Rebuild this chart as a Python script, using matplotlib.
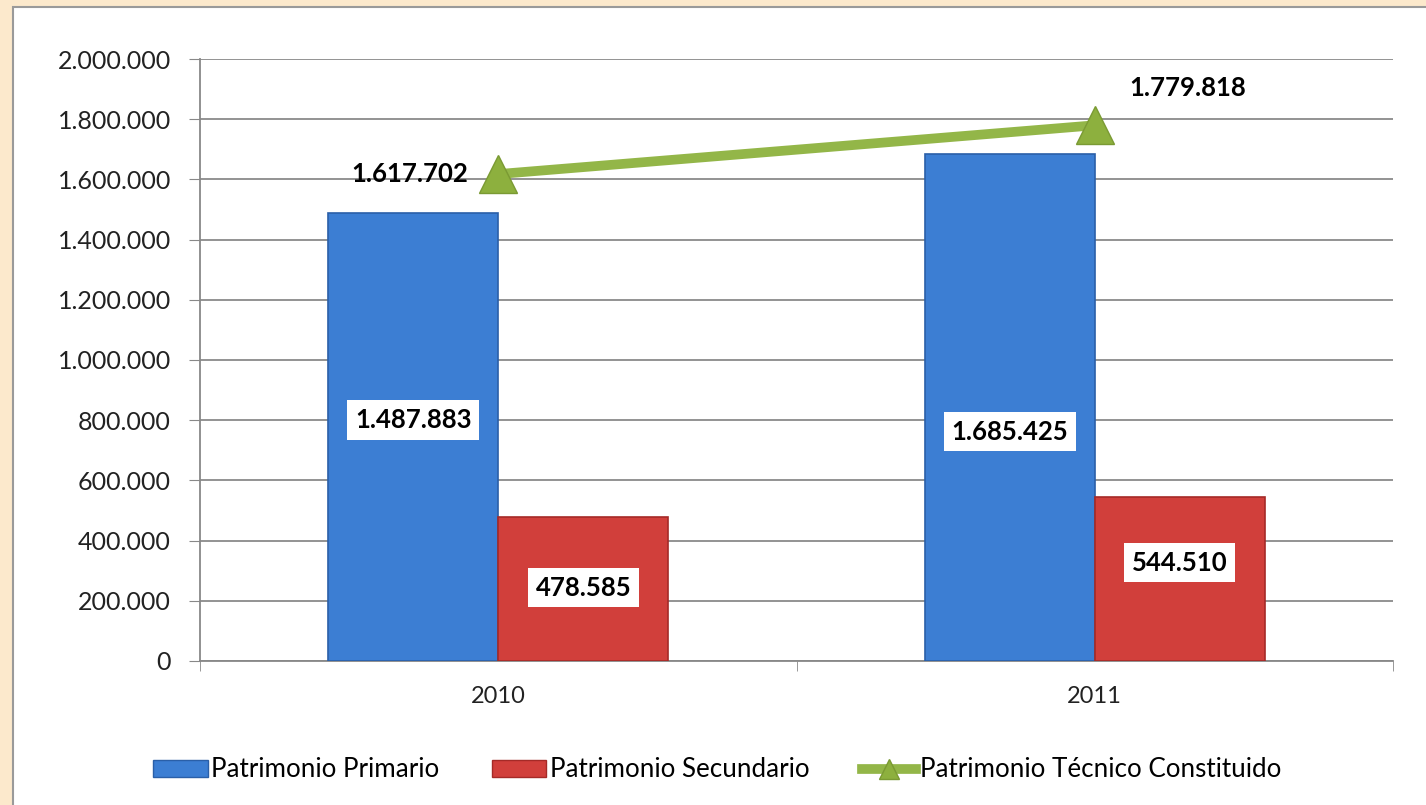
import numpy as np
import matplotlib
matplotlib.use('Agg')
import matplotlib.pyplot as plt
from matplotlib.patches import Rectangle, Patch
from matplotlib.lines import Line2D

years = ['2010', '2011']
primario = [1487883, 1685425]
secundario = [478585, 544510]
tecnico = [1617702, 1779818]

yticks = np.arange(0, 2000001, 200000)
ytick_labels = ['{:,}'.format(v).replace(',', '.') for v in yticks]


def fmt(v):
    return '{:,}'.format(v).replace(',', '.')


plt.rcParams['font.family'] = ['Lato', 'DejaVu Sans']

fig = plt.figure(figsize=[14.26, 8.05], dpi=100)
fig.patch.set_facecolor('#fce9cc')

# white panel behind the chart
panel = Rectangle((0.0091, -0.01), 1.0, 1.001, transform=fig.transFigure,
                  facecolor='white', edgecolor='#9a9a9a', linewidth=1.5, zorder=-10)
fig.patches.append(panel)

ax = fig.add_axes([0.1403, 0.1789, 0.8366, 0.7478])
ax.set_facecolor('none')

x = np.arange(len(years))
w = 0.285

ax.bar(x - w / 2, primario, w, color='#3c7ed3', edgecolor='#2a5fa8', linewidth=1.2, zorder=3)
ax.bar(x + w / 2, secundario, w, color='#d13f3b', edgecolor='#a52a27', linewidth=1.2, zorder=3)
ax.plot(x, tecnico, color='#93b648', linewidth=7, marker='^', markersize=27,
        markerfacecolor='#8db03e', markeredgecolor='#7a9a33', zorder=4)

box = dict(boxstyle='square,pad=0.3', facecolor='white', edgecolor='none')
prim_pos = [0.538, 0.452]
sec_pos = [0.51, 0.60]
for i in range(len(years)):
    ax.text(x[i] - w / 2, primario[i] * prim_pos[i], fmt(primario[i]), ha='center', va='center',
            fontsize=18.5, fontweight='bold', bbox=box, zorder=5)
    ax.text(x[i] + w / 2, secundario[i] * sec_pos[i], fmt(secundario[i]), ha='center', va='center',
            fontsize=18.5, fontweight='bold', bbox=box, zorder=5)

ax.annotate(fmt(tecnico[0]), (x[0], tecnico[0]), xytext=(-30, 0), textcoords='offset pixels',
            ha='right', va='center', fontsize=18.5, fontweight='bold', zorder=5)
ax.annotate(fmt(tecnico[1]), (x[1], tecnico[1]), xytext=(35, 37), textcoords='offset pixels',
            ha='left', va='center', fontsize=18.5, fontweight='bold', zorder=5)

ax.set_xlim(-0.5, 1.5)
ax.set_ylim(0, 2000000)
ax.set_yticks(yticks)
ax.set_yticklabels(ytick_labels)
ax.set_xticks(x)
ax.set_xticklabels(years)
ax.set_xticks([-0.5, 0.5, 1.5], minor=True)
ax.tick_params(axis='x', which='major', length=0, pad=18, labelsize=17, labelcolor='#222222')
ax.tick_params(axis='x', which='minor', length=7, color='#888888', direction='out')
ax.tick_params(axis='y', length=8, color='#888888', pad=13, labelsize=18, labelcolor='#222222')

ax.grid(axis='y', color='#8a8a8a', linewidth=1.3, zorder=1)
ax.set_axisbelow(True)
for s in ['top', 'right']:
    ax.spines[s].set_visible(False)
for s in ['left', 'bottom']:
    ax.spines[s].set_color('#888888')
    ax.spines[s].set_linewidth(1.3)

handles = [
    Patch(facecolor='#3c7ed3', edgecolor='#2a5fa8', label='Patrimonio Primario'),
    Patch(facecolor='#d13f3b', edgecolor='#a52a27', label='Patrimonio Secundario'),
    Line2D([], [], color='#93b648', linewidth=7, marker='^', markersize=15,
           markerfacecolor='#8db03e', markeredgecolor='#7a9a33', label='Patrimonio Técnico Constituido'),
]
fig.legend(handles=handles, loc='center', bbox_to_anchor=(0.503, 0.0435), ncol=3, frameon=False,
           fontsize=18.7, handlelength=2.1, handletextpad=0.15, columnspacing=2.0, handleheight=0.6)

fig.savefig('out.png', dpi=100, facecolor=fig.get_facecolor())
